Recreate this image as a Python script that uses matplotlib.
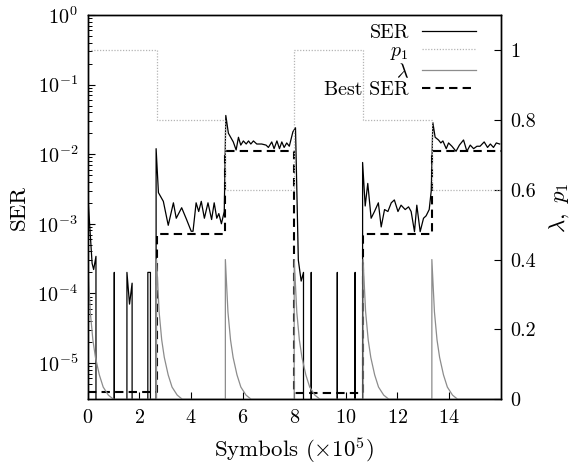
import numpy as np
import matplotlib
matplotlib.use("Agg")
import matplotlib.pyplot as plt
from matplotlib.lines import Line2D
from matplotlib.ticker import LogLocator, NullFormatter, FixedLocator, FixedFormatter

plt.rcParams['font.family'] = 'serif'
plt.rcParams['font.serif'] = ['cmr10']
plt.rcParams['mathtext.fontset'] = 'cm'
plt.rcParams['axes.unicode_minus'] = False
plt.rcParams['axes.formatter.use_mathtext'] = True

# segment boundaries (x 1e5 symbols)
change_pts = [0.0, 2.667, 5.333, 8.0, 10.667, 13.333, 16.0]
p1_vals = [1.0, 0.8, 0.6, 1.0, 0.8, 0.6]
best_ser = [3.8e-6, 7.1e-4, 1.1e-2, 3.7e-6, 7.1e-4, 1.1e-2]

# measured SER (0 = no errors in window)
ser_x = [0.00, 0.17, 0.23, 0.32, 0.42, 1.03, 1.13, 1.52, 1.62, 1.72, 1.82, 2.33, 2.43, 2.53,
         2.65, 2.74, 2.93, 3.12, 3.32, 3.43, 3.64, 3.83, 4.01, 4.08, 4.20, 4.30, 4.40, 4.52,
         4.66, 4.80, 4.90, 5.00, 5.08, 5.18, 5.29,
         5.35, 5.45, 5.64, 5.75, 5.84, 5.93, 6.03, 6.14, 6.23, 6.32, 6.42, 6.55, 6.74, 6.91,
         7.00, 7.13, 7.22, 7.33, 7.43, 7.52, 7.61, 7.71, 7.81, 7.95, 8.05,
         8.16, 8.27, 8.36, 8.46, 8.66, 8.76, 9.67, 9.77, 10.36, 10.46,
         10.65, 10.75, 10.85, 10.98, 11.11, 11.26, 11.37, 11.50, 11.63, 11.76, 11.88, 12.02,
         12.14, 12.30, 12.43, 12.53, 12.66, 12.75, 12.88, 13.01, 13.11, 13.23, 13.31,
         13.37, 13.46, 13.59, 13.68, 13.76, 13.89, 13.98, 14.11, 14.27, 14.40, 14.56, 14.69,
         14.82, 14.95, 15.08, 15.20, 15.36, 15.49, 15.60, 15.72, 15.83, 15.96]
ser_y = [2.7e-3, 2.7e-4, 2.2e-4, 3.4e-4, 0, 2e-4, 0, 2e-4, 7e-5, 1.4e-4, 0, 2e-4, 2e-4, 0,
         1.2e-2, 2.8e-3, 2.1e-3, 9.5e-4, 2.0e-3, 1.2e-3, 1.7e-3, 1.15e-3, 7.8e-4, 7.8e-4,
         2.0e-3, 1.5e-3, 2.1e-3, 1.2e-3, 2.0e-3, 1.15e-3, 2.0e-3, 1.2e-3, 1.4e-3, 1.0e-3, 1.5e-3,
         3.6e-2, 2.0e-2, 1.5e-2, 1.15e-2, 1.75e-2, 1.35e-2, 1.55e-2, 1.4e-2, 1.55e-2, 1.4e-2,
         1.55e-2, 1.4e-2, 1.4e-2, 1.35e-2, 1.25e-2, 1.5e-2, 1.2e-2, 1.55e-2, 1.2e-2, 1.5e-2,
         1.25e-2, 1.45e-2, 1.3e-2, 2.1e-2, 2.4e-2,
         3.0e-4, 1.5e-4, 2.0e-4, 0, 2e-4, 0, 2e-4, 0, 2e-4, 0,
         7.6e-3, 1.8e-3, 3.8e-3, 1.2e-3, 1.5e-3, 2.0e-3, 9e-4, 1.6e-3, 1.5e-3, 2.0e-3, 2.2e-3,
         1.5e-3, 1.85e-3, 1.6e-3, 1.75e-3, 1.5e-3, 7.7e-4, 1.85e-3, 7.7e-4, 1.2e-3, 1.3e-3,
         1.6e-3, 3e-3,
         2.85e-2, 1.75e-2, 1.6e-2, 1.45e-2, 1.55e-2, 1.2e-2, 1.45e-2, 1.3e-2, 1.1e-2, 1.35e-2,
         1.6e-2, 1.1e-2, 1.35e-2, 1.2e-2, 1.3e-2, 1.3e-2, 1.5e-2, 1.25e-2, 1.4e-2, 1.25e-2,
         1.45e-2, 1.4e-2]

# lambda after each change: offset from change point and value
lam_dx = [0.0, 0.1, 0.2, 0.3, 0.45, 0.6, 0.8, 1.0]
lam_prof = [0.4, 0.25, 0.17, 0.12, 0.07, 0.035, 0.012, 0.0]

lam_x, lam_y = [], []
for c in change_pts[:-1]:
    lam_x += [c] + [c + d for d in lam_dx]
    lam_y += [0.0] + lam_prof
lam_x.append(change_pts[-1])
lam_y.append(0.0)

fig = plt.figure(figsize=(5.74, 4.65), dpi=100)
ax = fig.add_axes([0.1528, 0.1413, 0.7195, 0.8264])
ax2 = ax.twinx()

ax.plot(ser_x, ser_y, color='black', lw=0.9)
ax.plot(change_pts, best_ser + [best_ser[-1]], color='black', lw=1.5,
        dashes=(4, 2.5), drawstyle='steps-post')
ax2.plot(change_pts, p1_vals + [p1_vals[-1]], color='#b4b4b4', lw=0.9,
         ls=(0, (1, 1.3)), drawstyle='steps-post')
ax2.plot(lam_x, lam_y, color='#8c8c8c', lw=0.9)

ax.set_yscale('log')
ax.set_ylim(3e-6, 1)
ax.set_xlim(0, 16)
ax2.set_ylim(0, 1.1)

ax.xaxis.set_major_locator(FixedLocator([0, 2, 4, 6, 8, 10, 12, 14]))
ax.yaxis.set_major_locator(LogLocator(base=10, numticks=10))
ax.yaxis.set_minor_locator(LogLocator(base=10, subs=np.arange(2, 10), numticks=10))
ax.yaxis.set_minor_formatter(NullFormatter())
ax2.yaxis.set_major_locator(FixedLocator([0, 0.2, 0.4, 0.6, 0.8, 1.0]))
ax2.yaxis.set_major_formatter(FixedFormatter(['0', '0.2', '0.4', '0.6', '0.8', '1']))

ax.tick_params(axis='both', which='major', direction='in', length=5, width=0.8,
               labelsize=14.5, pad=7)
ax.tick_params(axis='y', which='minor', direction='in', length=3, width=0.7)
ax.tick_params(axis='y', right=False)
ax2.tick_params(axis='y', which='major', direction='in', length=5, width=0.8,
                labelsize=14.5, pad=7)

for a in (ax, ax2):
    for s in a.spines.values():
        s.set_linewidth(1.0)

ax.set_xlabel(r'Symbols ($\times 10^5$)', fontsize=16.5, labelpad=6)
ax.set_ylabel('SER', fontsize=16.5, labelpad=6)
ax2.set_ylabel(r'$\lambda,\ p_1$', fontsize=16.5, labelpad=8)

handles = [Line2D([], [], color='black', lw=0.9),
           Line2D([], [], color='#b4b4b4', lw=0.9, ls=(0, (1, 1.3))),
           Line2D([], [], color='#8c8c8c', lw=0.9),
           Line2D([], [], color='black', lw=1.5, dashes=(4, 2.5))]
labels = ['SER', r'$p_1$', r'$\lambda$', 'Best SER']
ax2.legend(handles, labels, loc='upper right', bbox_to_anchor=(0.94, 0.976),
           frameon=False, markerfirst=False, fontsize=14.4, handlelength=2.7,
           handletextpad=0.65, labelspacing=0.0, borderpad=0, borderaxespad=0)

fig.savefig('out.png', dpi=100)
